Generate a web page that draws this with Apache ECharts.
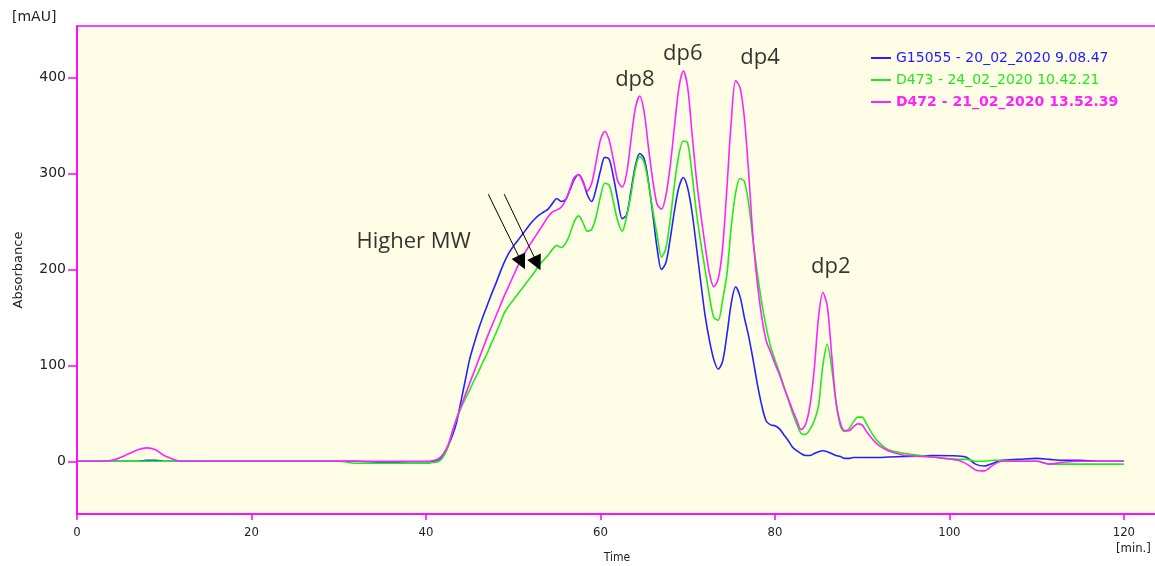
<!DOCTYPE html>
<html>
<head>
<meta charset="utf-8">
<script src="https://cdn.jsdelivr.net/npm/echarts@6/dist/echarts.min.js"></script>
<style>
html,body{margin:0;padding:0;background:#fff;}
#chart{width:1155px;height:566px;}
</style>
</head>
<body>
<div id="chart"></div>
<script>
// ---- data ----
const timeMin = [0,2,4,6,7,8,9,10,12,20,30,32,35,38,40,41,
  41.5,42,42.5,43,43.5,44,44.5,45,45.5,46,46.5,47,47.5,48,48.5,49,49.5,50,50.5,51,51.5,52,52.5,53,53.5,54,54.5,
  55,55.5,56,56.5,57,57.5,58,58.5,59,59.5,60,60.5,61,61.5,62,62.5,63,63.5,64,64.5,
  65,65.5,66,66.5,67,67.5,68,68.5,69,69.5,70,70.5,71,71.5,72,72.5,73,73.5,74,74.5,
  75,75.5,76,76.5,77,77.5,78,78.5,79,79.5,80,80.5,81,81.5,82,82.5,83,83.5,84,84.5,
  85,85.5,86,86.5,87,87.5,88,88.5,89,89.5,90,90.5,91,91.5,92,
  93,95,98,101,102,103,104,105,106,108,110,111.5,113,115,117,120];
const g15055 = [0,0,0,0,0,1,1,0,0,0,0,0,-1,-2,-2,0,
  2,6,15,26,40,62,84,106,122,137,150,162,174,185,197,208,217,224,230,236,242,248,253,257,260,263,269,
  274,271,273,283,294,299,292,278,271,284,303,317,315,296,272,253,257,282,308,321,
  316,292,258,222,200,207,232,262,286,296,285,260,224,187,152,126,106,96,104,132,
  165,182,172,150,130,106,80,58,42,38,37,34,28,22,15,11,8,6,6,8,
  10,11,10,8,6,5,3,3,4,4,4,4,4,4,4,
  4.5,5,6,5.5,4,-3,-5,-2,1,2,3,2,1,1,0,0];
const d473 = [0,0,0,0,0,0,0,0,0,0,0,-2,-2,-2,-2,-1,
  0,5,14,30,44,55,65,74,84,93,103,112,123,133,144,155,162,168,174,180,186,192,198,205,210,215,221,
  225,223,227,237,250,256,249,240,242,255,276,290,288,270,250,240,255,278,305,318,
  312,290,262,236,213,222,252,290,320,334,332,300,260,228,200,172,150,147,168,195,
  245,280,295,292,268,230,195,165,140,120,106,93,79,65,51,39,29,28,33,42,
  58,100,122,98,62,37,31,34,41,46,46,39,31,24,19,
  12,8,4.5,2,2,0,0,1,1,0,0,-3,-3,-3,-3,-3];
const d472 = [0,0,1,8,12,14,12,6,0,0,0,0,0,0,0,1,
  3,8,16,30,44,57,69,81,93,105,117,129,140,151,162,173,183,193,203,212,220,227,234,241,248,255,260,
  262,265,272,284,296,299,291,282,290,312,335,344,335,314,292,286,300,335,368,381,
  365,328,293,268,263,277,308,350,390,407,390,342,295,258,225,196,182,190,222,285,
  355,397,390,358,300,232,185,150,126,114,102,91,78,66,54,43,33,38,57,95,
  150,176,162,112,62,40,32,32,36,39,38,31,25,20,16,
  11,6,4.5,1,-3,-9,-10,-4,0,0,0,-3,-1,0,0,0];
const seriesNames = ['G15055 - 20_02_2020 9.08.47','D473 - 24_02_2020 10.42.21','D472 - 21_02_2020 13.52.39'];
const seriesColors = ['#2222ff','#22e822','#ff22ff'];
const xTicks = [0,20,40,60,80,100,120];
const yTicks = [0,100,200,300,400];
// annotations (data coordinates)
const noteTexts = ['dp8','dp6','dp4','dp2','Higher MW'];
const notePos = [[63.95,398],[69.45,425],[78.3,421],[86.4,203],[38.6,229]];
const arrowLines = [[[47.14,278.6],[50.97,207.4]],[[48.97,278.6],[52.76,206.3]]];

const zip = (ys) => timeMin.map((t,i)=>[t, ys[i]]);
const valueSets = [g15055, d473, d472];

const chart = echarts.init(document.getElementById('chart'), null, {renderer:'canvas'});
const AX = '#ff00ff';
const labelFont = 'DejaVu Sans';

const series = valueSets.map((vals,i)=>({
  name: seriesNames[i],
  type: 'line',
  data: zip(vals),
  showSymbol: false,
  symbol: 'none',
  smooth: 0.3,
  lineStyle: {color: seriesColors[i], width: 1.6},
  itemStyle: {color: seriesColors[i]},
  z: 2 + i,
  silent: true,
  animation: false
}));

series.push({
  name: 'notes',
  type: 'scatter',
  data: notePos.map((p,i)=>({value:p, name: noteTexts[i]})),
  symbolSize: 0,
  silent: true,
  animation: false,
  label: {show: true, position: 'inside', formatter: p => p.name,
    fontFamily: 'Open Sans', fontSize: 22, color: '#000'},
  markLine: {
    silent: true,
    animation: false,
    symbol: ['none','triangle'],
    symbolSize: 15,
    label: {show: false},
    lineStyle: {color: '#000', width: 1, type: 'solid'},
    data: arrowLines.map(l => [{coord: l[0]}, {coord: l[1]}])
  },
  z: 10
});

chart.setOption({
  animation: false,
  backgroundColor: '#ffffff',
  grid: {left: 77, top: 26, right: -2, bottom: 52, show: true,
    backgroundColor: '#fffde6', borderColor: AX, borderWidth: 1.5,
    containLabel: false, outerBoundsMode: 'none'},
  legend: {
    orient: 'vertical', left: 866, top: 46, itemGap: 8,
    itemWidth: 20, itemHeight: 2, icon: 'rect', selectedMode: false,
    textStyle: {fontFamily: labelFont, fontSize: 14},
    data: seriesNames.map((n,i)=>({name: n,
      textStyle: {color: seriesColors[i], fontWeight: i===2 ? 'bold' : 'normal'}}))
  },
  xAxis: {
    type: 'value', min: 0, max: 123.8,
    name: 'Time', nameLocation: 'middle', nameGap: 38,
    nameTextStyle: {fontFamily: 'DejaVu Sans Condensed', fontSize: 12, color: '#222'},
    axisLine: {show: true, onZero: false, lineStyle: {color: AX, width: 1.5}},
    axisTick: {show: true, inside: false, length: 6, customValues: xTicks, lineStyle: {color: AX, width: 1.5}},
    axisLabel: {customValues: xTicks, margin: 12, fontFamily: 'DejaVu Sans Condensed', fontSize: 13, color: '#222'},
    splitLine: {show: false}
  },
  yAxis: {
    type: 'value', min: -55, max: 454,
    name: 'Absorbance', nameLocation: 'middle', nameGap: 52, nameRotate: 90,
    nameTextStyle: {fontFamily: labelFont, fontSize: 13, color: '#222'},
    axisLine: {show: true, onZero: false, lineStyle: {color: AX, width: 1.5}},
    axisTick: {show: true, inside: false, length: 9, customValues: yTicks, lineStyle: {color: AX, width: 1.5}},
    axisLabel: {customValues: yTicks, margin: 11, fontFamily: labelFont, fontSize: 14, color: '#222'},
    splitLine: {show: false}
  },
  graphic: [
    {type: 'text', left: 12, top: 10, style: {text: '[mAU]', font: '14px "DejaVu Sans"', fill: '#222'}},
    {type: 'text', left: 1116, top: 542, style: {text: '[min.]', font: '13px "DejaVu Sans Condensed"', fill: '#222'}}
  ],
  series: series
});
</script>
</body>
</html>
